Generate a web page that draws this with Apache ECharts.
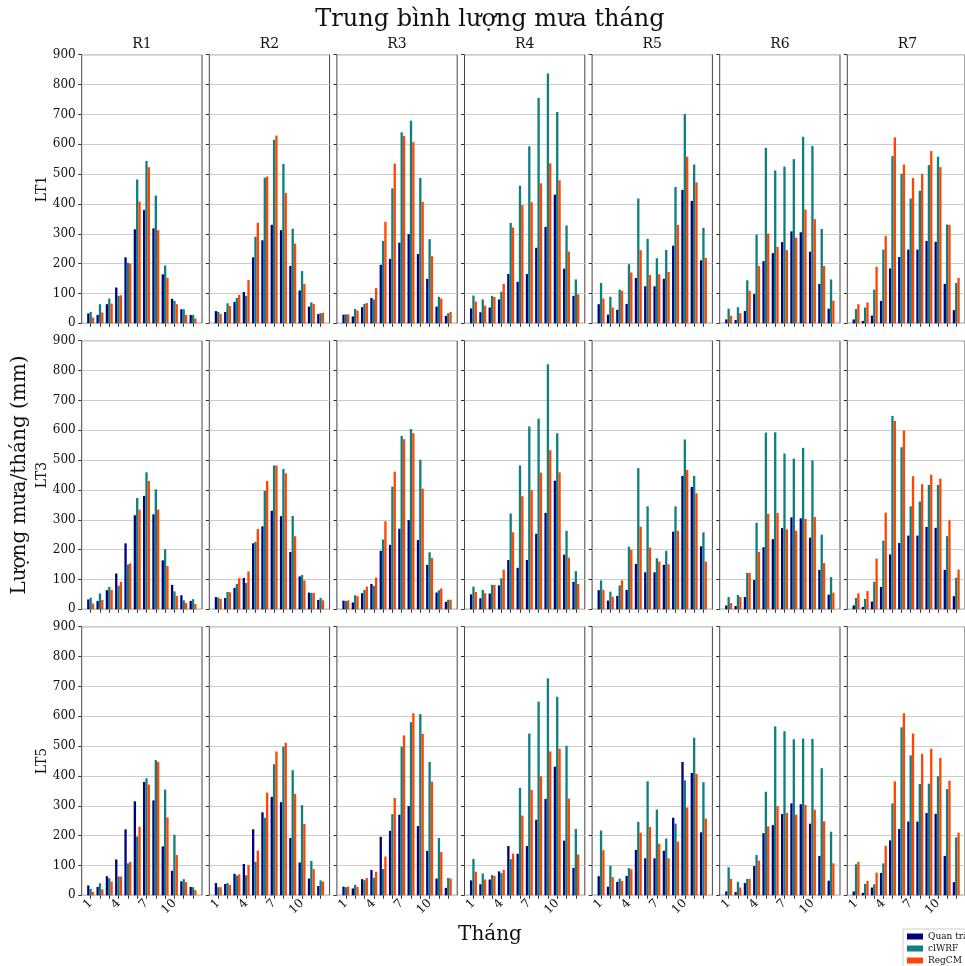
<!DOCTYPE html>
<html><head><meta charset="utf-8">
<script src="https://cdn.jsdelivr.net/npm/echarts@6/dist/echarts.min.js"></script>
<style>html,body{margin:0;padding:0;background:#fff}#c{width:965px;height:966px}</style>
</head><body><div id="c"></div>
<script>
const months = [1,2,3,4,5,6,7,8,9,10,11,12];
const regions = ['R1','R2','R3','R4','R5','R6','R7'];
const leads = ['LT1','LT3','LT5'];
const seriesNames = ['Quan trắc','clWRF','RegCM'];
const yTicks = [0,100,200,300,400,500,600,700,800,900];
const xLabelMonths = [1,4,7,10];

const obs_R1 = [33,28,64,120,221,315,380,318,164,82,47,28];
const wrf_R1_LT1 = [38,64,83,92,203,482,544,428,194,75,47,28];
const reg_R1_LT1 = [19,36,66,94,200,408,523,312,152,64,28,16];
const wrf_R1_LT3 = [39,53,75,79,150,373,459,402,201,60,30,34];
const reg_R1_LT3 = [19,31,65,92,154,334,430,334,145,45,21,18];
const wrf_R1_LT5 = [21,40,57,63,107,197,392,453,354,203,54,27];
const reg_R1_LT5 = [11,20,46,63,112,230,371,447,261,135,44,17];

const obs_R2 = [41,38,72,105,221,278,330,312,192,110,56,31];
const wrf_R2_LT1 = [38,67,85,92,290,488,615,534,317,175,70,34];
const reg_R2_LT1 = [31,58,95,145,337,492,629,437,267,132,65,35];
const wrf_R2_LT3 = [39,58,85,88,226,397,482,470,313,115,55,38];
const reg_R2_LT3 = [35,57,104,127,269,430,482,456,245,97,55,30];
const wrf_R2_LT5 = [27,41,66,67,112,260,439,498,419,302,115,50];
const reg_R2_LT5 = [27,35,70,101,150,344,482,511,340,239,88,46];

const obs_R3 = [29,23,54,85,196,216,270,299,232,149,56,25];
const wrf_R3_LT1 = [30,48,65,80,276,452,640,679,487,282,89,34];
const reg_R3_LT1 = [30,42,68,118,340,535,628,607,407,225,83,38];
const wrf_R3_LT3 = [28,47,65,78,234,411,581,604,501,191,64,32];
const reg_R3_LT3 = [30,44,76,106,295,461,570,590,404,172,70,32];
const wrf_R3_LT5 = [27,35,51,59,88,272,498,580,607,447,192,58];
const reg_R3_LT5 = [29,28,58,79,130,326,536,610,541,381,145,56];

const obs_R4 = [50,37,53,80,165,139,165,253,323,431,183,92];
const wrf_R4_LT1 = [93,80,92,106,336,461,593,755,837,708,328,147];
const reg_R4_LT1 = [73,59,88,132,321,396,406,469,536,479,240,97];
const wrf_R4_LT3 = [76,65,82,104,321,482,613,639,821,590,263,128];
const reg_R4_LT3 = [58,54,82,133,258,379,400,458,533,459,173,85];
const wrf_R4_LT5 = [122,73,68,74,121,360,542,649,727,665,501,222];
const reg_R4_LT5 = [79,53,65,85,140,267,353,399,482,491,324,137];

const obs_R5 = [64,29,45,65,152,124,124,149,260,447,410,211];
const wrf_R5_LT1 = [135,89,113,198,418,283,218,246,457,701,532,320];
const reg_R5_LT1 = [83,53,109,170,245,162,164,172,330,558,472,219];
const wrf_R5_LT3 = [97,59,80,210,473,345,171,196,345,569,447,258];
const reg_R5_LT3 = [65,42,97,199,277,207,160,151,263,467,389,160];
const wrf_R5_LT5 = [217,99,56,91,246,382,287,190,240,385,528,379];
const reg_R5_LT5 = [151,61,48,87,210,229,173,124,180,294,407,257];

const obs_R6 = [13,11,41,98,208,235,272,308,305,240,132,49];
const wrf_R6_LT1 = [49,54,144,297,588,512,525,550,625,594,316,147];
const reg_R6_LT1 = [25,34,109,192,301,256,245,287,381,349,192,76];
const wrf_R6_LT3 = [41,48,122,290,592,593,522,505,541,499,250,108];
const reg_R6_LT3 = [21,41,122,192,320,323,268,263,303,309,155,56];
const wrf_R6_LT5 = [94,45,55,135,347,566,550,523,525,524,426,213];
const reg_R6_LT5 = [55,26,55,116,231,299,276,270,303,287,248,107];

const obs_R7 = [13,8,26,75,184,222,247,247,276,273,132,44];
const wrf_R7_LT1 = [48,53,113,247,561,501,418,444,530,558,331,135];
const reg_R7_LT1 = [64,70,189,293,623,532,487,501,577,523,330,152];
const wrf_R7_LT3 = [38,35,92,230,648,543,345,361,417,417,245,106];
const reg_R7_LT3 = [53,61,170,324,631,599,446,419,451,438,298,133];
const wrf_R7_LT5 = [104,38,37,107,308,563,469,373,374,399,356,194];
const reg_R7_LT5 = [112,48,76,166,382,610,542,474,491,460,384,210];

const obsTable = {R1:obs_R1,R2:obs_R2,R3:obs_R3,R4:obs_R4,R5:obs_R5,R6:obs_R6,R7:obs_R7};
const wrfTable = {
  R1:{LT1:wrf_R1_LT1,LT3:wrf_R1_LT3,LT5:wrf_R1_LT5},
  R2:{LT1:wrf_R2_LT1,LT3:wrf_R2_LT3,LT5:wrf_R2_LT5},
  R3:{LT1:wrf_R3_LT1,LT3:wrf_R3_LT3,LT5:wrf_R3_LT5},
  R4:{LT1:wrf_R4_LT1,LT3:wrf_R4_LT3,LT5:wrf_R4_LT5},
  R5:{LT1:wrf_R5_LT1,LT3:wrf_R5_LT3,LT5:wrf_R5_LT5},
  R6:{LT1:wrf_R6_LT1,LT3:wrf_R6_LT3,LT5:wrf_R6_LT5},
  R7:{LT1:wrf_R7_LT1,LT3:wrf_R7_LT3,LT5:wrf_R7_LT5}
};
const regTable = {
  R1:{LT1:reg_R1_LT1,LT3:reg_R1_LT3,LT5:reg_R1_LT5},
  R2:{LT1:reg_R2_LT1,LT3:reg_R2_LT3,LT5:reg_R2_LT5},
  R3:{LT1:reg_R3_LT1,LT3:reg_R3_LT3,LT5:reg_R3_LT5},
  R4:{LT1:reg_R4_LT1,LT3:reg_R4_LT3,LT5:reg_R4_LT5},
  R5:{LT1:reg_R5_LT1,LT3:reg_R5_LT3,LT5:reg_R5_LT5},
  R6:{LT1:reg_R6_LT1,LT3:reg_R6_LT3,LT5:reg_R6_LT5},
  R7:{LT1:reg_R7_LT1,LT3:reg_R7_LT3,LT5:reg_R7_LT5}
};

const colors = ['#000080','#0f8080','#ff4500'];
const FONT = 'DejaVu Serif';
const gridLeft0 = 81.7, colStep = 127.6, gridW = 120.3;
const rowTops = [54.7, 340.7, 626.7], gridH = 268.6;
const xMin = 0.0375, xMax = 12.9625;
const barW = gridW / (xMax - xMin) * 0.25;

const grids = [], xAxes = [], yAxes = [], series = [];
const graphics = [];
let k = 0;
leads.forEach((lt, r) => {
  regions.forEach((rg, c) => {
    const left = gridLeft0 + c * colStep;
    grids.push({left: left, top: rowTops[r], width: gridW, height: gridH,
      show: true, borderColor: '#444', borderWidth: 1, backgroundColor: 'transparent', containLabel: false});
    xAxes.push({type: 'value', gridIndex: k, min: xMin, max: xMax,
      axisLine: {show: false},
      axisTick: {show: true, customValues: months, length: 3.5, inside: false, lineStyle: {color: '#333', width: 1}},
      axisLabel: {show: r === 2, customValues: xLabelMonths, rotate: 45, fontFamily: FONT, fontSize: 12, color: '#111', margin: 6},
      splitLine: {show: false}});
    yAxes.push({type: 'value', gridIndex: k, min: 0, max: 900, interval: 100,
      axisLine: {show: false},
      axisTick: {show: true, length: 3.5, inside: false, lineStyle: {color: '#333', width: 1}},
      axisLabel: {show: c === 0, fontFamily: FONT, fontSize: 12, color: '#111', margin: 6},
      splitLine: {show: true, lineStyle: {color: '#cccccc', width: 1}}});
    const sets = [obsTable[rg], wrfTable[rg][lt], regTable[rg][lt]];
    sets.forEach((vals, s) => {
      series.push({type: 'bar', name: seriesNames[s], xAxisIndex: k, yAxisIndex: k,
        barWidth: barW, barGap: '0%',
        itemStyle: {color: colors[s]},
        data: months.map((m, j) => [m, vals[j]])});
    });
    if (r === 0) {
      graphics.push({type: 'text', x: left + gridW / 2, y: 44,
        style: {text: rg, font: '14px "' + FONT + '"', fill: '#111', textAlign: 'center', textVerticalAlign: 'middle'}});
    }
    k++;
  });
  graphics.push({type: 'text', x: 42, y: rowTops[r] + gridH / 2, rotation: Math.PI / 2,
    style: {text: lt, font: '14px "' + FONT + '"', fill: '#111', textAlign: 'center', textVerticalAlign: 'middle'}});
});
graphics.push({type: 'text', x: 490, y: 20,
  style: {text: 'Trung bình lượng mưa tháng', font: '24px "' + FONT + '"', fill: '#111', textAlign: 'center', textVerticalAlign: 'middle'}});
graphics.push({type: 'text', x: 20, y: 475, rotation: Math.PI / 2,
  style: {text: 'Lượng mưa/tháng (mm)', font: '20px "' + FONT + '"', fill: '#111', textAlign: 'center', textVerticalAlign: 'middle'}});
graphics.push({type: 'text', x: 490, y: 935,
  style: {text: 'Tháng', font: '20px "' + FONT + '"', fill: '#111', textAlign: 'center', textVerticalAlign: 'middle'}});

const chart = echarts.init(document.getElementById('c'), null, {renderer: 'canvas'});
chart.setOption({
  animation: false,
  backgroundColor: '#fff',
  grid: grids, xAxis: xAxes, yAxis: yAxes, series: series,
  legend: {data: seriesNames, orient: 'vertical', left: 903, top: 929, width: 80, height: 60, icon: 'rect',
    itemWidth: 16, itemHeight: 6, itemGap: 1, padding: [2, 4, 2, 4],
    borderColor: '#ccc', borderWidth: 1, backgroundColor: '#fff',
    textStyle: {fontFamily: FONT, fontSize: 9, color: '#111', lineHeight: 11}, selectedMode: false},
  graphic: graphics
});
</script></body></html>
